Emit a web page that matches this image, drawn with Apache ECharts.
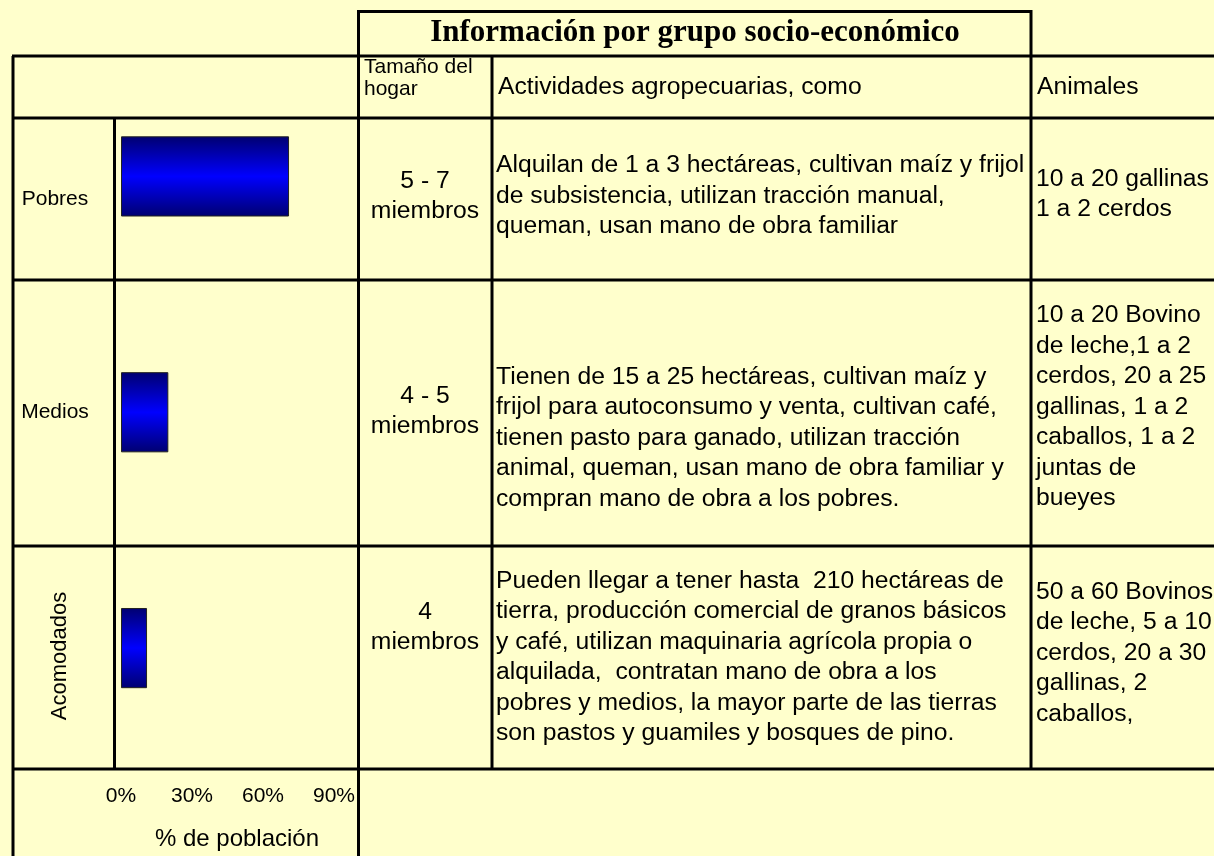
<!DOCTYPE html>
<html>
<head>
<meta charset="utf-8">
<script src="https://cdn.jsdelivr.net/npm/echarts@6/dist/echarts.min.js"></script>
<style>
html,body{margin:0;padding:0;background:#FFFFCC;}
#main{width:1214px;height:856px;}
</style>
</head>
<body>
<div id="main"></div>
<script>
// ---- data ----
const categories = ['Pobres', 'Medios', 'Acomodados'];
const populationPct = [71, 20, 11];
const tickValues = [0, 30, 60, 90];
const titleText = 'Información por grupo socio-económico';
const headerSize = 'Tamaño del\nhogar';
const headerActivities = 'Actividades agropecuarias, como';
const headerAnimals = 'Animales';
const householdSize = ['5 - 7\nmiembros', '4 - 5\nmiembros', '4\nmiembros'];
const activities = [
  ['Alquilan de 1 a 3 hectáreas, cultivan maíz y frijol',
   'de subsistencia, utilizan tracción manual,',
   'queman, usan mano de obra familiar'],
  ['Tienen de 15 a 25 hectáreas, cultivan maíz y',
   'frijol para autoconsumo y venta, cultivan café,',
   'tienen pasto para ganado, utilizan tracción',
   'animal, queman, usan mano de obra familiar y',
   'compran mano de obra a los pobres.'],
  ['Pueden llegar a tener hasta  210 hectáreas de',
   'tierra, producción comercial de granos básicos',
   'y café, utilizan maquinaria agrícola propia o',
   'alquilada,  contratan mano de obra a los',
   'pobres y medios, la mayor parte de las tierras',
   'son pastos y guamiles y bosques de pino.']
];
const animals = [
  ['10 a 20 gallinas', '1 a 2 cerdos'],
  ['10 a 20 Bovino', 'de leche,1 a 2', 'cerdos, 20 a 25', 'gallinas, 1 a 2', 'caballos, 1 a 2', 'juntas de', 'bueyes'],
  ['50 a 60 Bovinos', 'de leche, 5 a 10', 'cerdos, 20 a 30', 'gallinas, 2', 'caballos,']
];
const axisName = '% de población';

// ---- layout ----
const SANS = '"Liberation Sans", Arial, sans-serif';
const SERIF = '"Liberation Serif", "Times New Roman", serif';
const rowCenters = [196, 438, 657];
const sizeCenters = [196, 411, 627];
const animalCenters = [194, 407, 653];
const labelCenters = [199, 412, 656];

const g = [];
function line(x1, y1, x2, y2, w) {
  g.push({type: 'line', silent: true, z: 10,
    shape: {x1, y1, x2, y2},
    style: {stroke: '#000', lineWidth: w || 3}});
}
function text(t, x, y, opts) {
  g.push({type: 'text', silent: true, z: 11, rotation: opts.rot || 0, x: x, y: y,
    style: Object.assign({text: t, x: 0, y: 0, fill: '#000', fontFamily: SANS, fontSize: 24.7,
      align: 'left', verticalAlign: 'middle', lineHeight: 30.5}, opts.style || {})});
}
// table lines
line(358, 11.5, 1031, 11.5);
line(12, 56, 1214, 56);
line(12, 118, 1214, 118);
line(12, 280, 1214, 280);
line(12, 546, 1214, 546);
line(12, 769, 1214, 769);
line(13, 56, 13, 856);
line(114.5, 118, 114.5, 769);
line(358.5, 10, 358.5, 856);
line(492, 56, 492, 769);
line(1031, 10, 1031, 769);

// title
text(titleText, 695, 33, {style: {fontFamily: SERIF, fontWeight: 'bold', fontSize: 31, align: 'center'}});
// header
text(headerSize, 364, 78, {style: {fontSize: 21, lineHeight: 22}});
text(headerActivities, 498, 87, {});
text(headerAnimals, 1037, 87, {});
// rows
for (let i = 0; i < categories.length; i++) {
  if (i === 2) {
    text(categories[i], 60, labelCenters[i], {rot: Math.PI / 2, style: {fontSize: 22, align: 'center'}});
  } else {
    text(categories[i], 55, labelCenters[i], {style: {fontSize: 21, align: 'center'}});
  }
  text(householdSize[i], 425, sizeCenters[i], {style: {align: 'center'}});
  text(activities[i].join('\n'), 496, rowCenters[i], {});
  text(animals[i].join('\n'), 1036, animalCenters[i], {});
}

const chart = echarts.init(document.getElementById('main'));
chart.setOption({
  backgroundColor: '#FFFFCC',
  animation: false,
  grid: {left: 121, top: 58.5, width: 213, height: 711},
  xAxis: {
    type: 'value', min: 0, max: 90, interval: 30,
    axisLine: {show: false}, axisTick: {show: false}, splitLine: {show: false},
    axisLabel: {margin: 20, color: '#000', fontFamily: SANS, fontSize: 21,
      formatter: v => tickValues.indexOf(v) >= 0 ? v + '%' : ''},
    name: axisName, nameLocation: 'middle', nameGap: 61,
    nameTextStyle: {color: '#000', fontFamily: SANS, fontSize: 24, padding: [0, 0, 0, 19]}
  },
  yAxis: {
    type: 'category', data: categories, inverse: true,
    axisLine: {show: false}, axisTick: {show: false}, axisLabel: {show: false}
  },
  series: [{
    type: 'bar', data: populationPct, barWidth: '34%',
    itemStyle: {
      borderColor: '#222', borderWidth: 1,
      color: new echarts.graphic.LinearGradient(0, 0, 0, 1, [
        {offset: 0, color: '#000070'},
        {offset: 0.5, color: '#0000FF'},
        {offset: 1, color: '#000070'}
      ])
    }
  }],
  graphic: g
});
</script>
</body>
</html>
